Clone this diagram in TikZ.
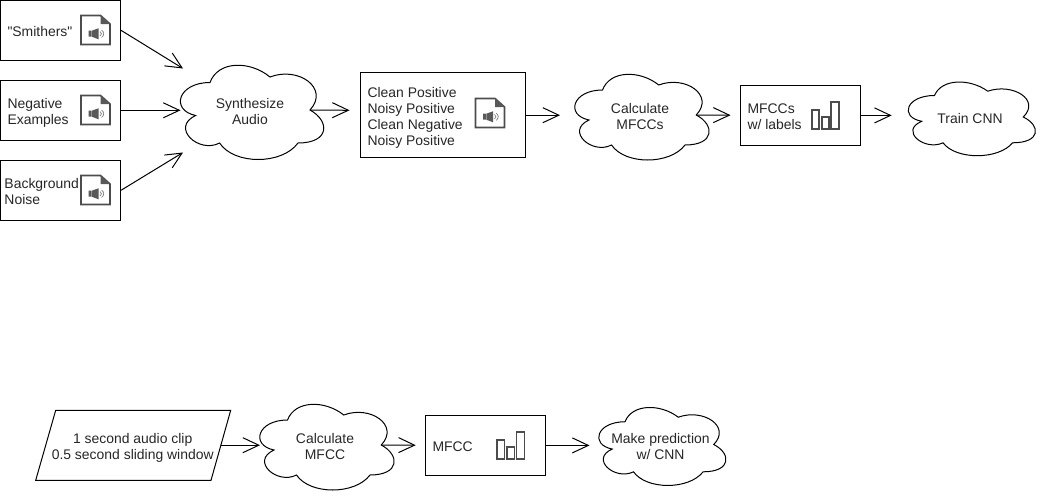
\documentclass[tikz,border=0pt]{standalone}
\usepackage{fontspec}
\setmainfont[Ligatures=TeXOff]{Liberation Sans}
\usetikzlibrary{arrows.meta}
\tikzset{
    every picture/.style={x=0.75pt,y=-0.75pt,line width=0.75pt},
    every node/.style={font=\fontsize{10.45pt}{12pt}\selectfont,text=black!85},
    databox/.style={draw,rectangle,inner sep=0pt},
    label/.style={align=left,inner sep=0pt,anchor=west},
    link/.style={-{Straight Barb[length=12pt,width=11.25pt,line width=0.75pt]},black},
    cloudbox/.style={rectangle,inner sep=0pt,align=center,yshift=-1.2pt},
    iconline/.style={draw=black!70,line width=1.25pt}
}
% cloud outline round a named node, x y w h in pixels
\newcommand{\cloudnode}[6]{
    \draw[shift={(#2,#3)},x={#4*0.75pt},y={-#5*0.75pt}]
        (.25,.25) .. controls (.05,.25) and (0,.5) .. (.16,.55)
        .. controls (0,.66) and (.18,.9) .. (.31,.8)
        .. controls (.4,1) and (.7,1) .. (.8,.8)
        .. controls (1,.8) and (1,.6) .. (.875,.5)
        .. controls (1,.3) and (.8,.1) .. (.625,.2)
        .. controls (.5,.05) and (.3,.05) .. (.25,.25) -- cycle;
    \node[cloudbox,minimum width=#4*0.75pt,minimum height=#5*0.75pt] (#1) at (#2+#4/2,#3+#5/2) {#6};
    \coordinate (#1out) at (#2+.875*#4,#3+#5/2);
}
% audio file icon, centre given
\newcommand{\audioicon}[2]{
    \begin{scope}[shift={(#1,#2)}]
        \draw[iconline] (-14.5,-14.5) -- (5,-14.5) -- (14.5,-6) -- (14.5,14.5) -- (-14.5,14.5) -- cycle;
        \fill[black!65] (5,-14.5) -- (14.5,-6) -- (5,-6) -- cycle;
        \fill[black!65] (-7,0.7) rectangle (-4.2,6.7) (-3.7,0.7) -- (3,-1.7) -- (3,9.3) -- (-3.7,6.7) -- cycle;
        \draw[black!55,line width=0.5pt] (4.5,1.5) .. controls (6.5,2.5) and (6.5,5) .. (4.5,6)
            (6,0) .. controls (9,2) and (9,5.5) .. (6,7.5);
    \end{scope}
}
% bar chart icon, centre given
\newcommand{\barsicon}[2]{
    \begin{scope}[shift={(#1,#2)}]
        \draw[iconline] (-13.3,-6) rectangle (-5.7,13.3);
        \draw[iconline] (-3.3,1) rectangle (4.3,13.3);
        \draw[iconline] (6.3,-13.7) rectangle (14.3,13.3);
    \end{scope}
}
\begin{document}
\begin{tikzpicture}
    \useasboundingbox (0,0) rectangle (1041,496);
    % training flow
    \node[databox,minimum width=90pt,minimum height=45pt] (smithers) at (60.5,30.3) {};
    \node[label] (smitherstext) at (7,32) {"Smithers"};
    \audioicon{95.5}{30}
    \node[databox,minimum width=90pt,minimum height=45pt] (negative) at (60.5,110.3) {};
    \node[label] (negativetext) at (7,113) {Negative\\Examples};
    \audioicon{95.5}{110}
    \node[databox,minimum width=90pt,minimum height=45pt] (noise) at (60.5,190.3) {};
    \node[label] (noisetext) at (4,192) {Background\\Noise};
    \audioicon{95.5}{190}

    \cloudnode{synth}{170}{55}{160}{110}{Synthesize\\Audio}

    \node[databox,minimum width=123.75pt,minimum height=63.75pt] (clean) at (443,115.2) {};
    \node[label] (cleantext) at (367,117.5) {Clean Positive\\Noisy Positive\\Clean Negative\\Noisy Positive};
    \audioicon{490}{113}

    \cloudnode{calc}{565}{65}{150}{100}{Calculate\\MFCCs}

    \node[databox,minimum width=90pt,minimum height=45pt] (labels) at (800.7,115.4) {};
    \node[label] (labelstext) at (747,116.5) {MFCCs\\w/ labels};
    \barsicon{825}{116}

    \cloudnode{train}{899}{74}{142}{86}{Train CNN}

    \coordinate (synthsmithers) at (183,68.5);
    \coordinate (synthnegative) at (180.5,110.3);
    \coordinate (synthnoise) at (183,152.5);
    \coordinate (cleanin) at (349.5,110.3);
    \coordinate (calcin) at (560,115.2);
    \coordinate (labelsin) at (730.5,115.2);
    \coordinate (trainin) at (891.7,115.4);
    \draw[link] (smithers.east) -- (synthsmithers);
    \draw[link] (negative.east) -- (synthnegative);
    \draw[link] (noise.east) -- (synthnoise);
    \draw[link] (synthout) -- (cleanin);
    \draw[link] (clean.east) -- (calcin);
    \draw[link] (calcout) -- (labelsin);
    \draw[link] (labels.east) -- (trainin);

    % prediction flow
    \draw (55.7,410.3) -- (230.7,410.3) -- (211,480.3) -- (35.7,480.3) -- cycle;
    \node[align=center,inner sep=0pt] (clip) at (132.7,447.5) {1 second audio clip\\0.5 second sliding window};
    \coordinate (clipout) at (221,445.2);
    \coordinate (mfccin) at (260,445.2);

    \cloudnode{mfcc}{250}{395}{150}{100}{Calculate\\MFCC}

    \node[databox,minimum width=90pt,minimum height=45pt] (pred) at (485.5,445.4) {};
    \node[label] (predtext) at (432,446.5) {MFCC};
    \barsicon{510.3}{445.7}
    \coordinate (predin) at (415.7,445.2);

    \cloudnode{cnn}{589.5}{399}{142}{91}{Make prediction\\w/ CNN}
    \coordinate (cnnin) at (589.5,445.4);

    \draw[link] (clipout) -- (mfccin);
    \draw[link] (mfccout) -- (predin);
    \draw[link] (pred.east) -- (cnnin);
\end{tikzpicture}
\end{document}
